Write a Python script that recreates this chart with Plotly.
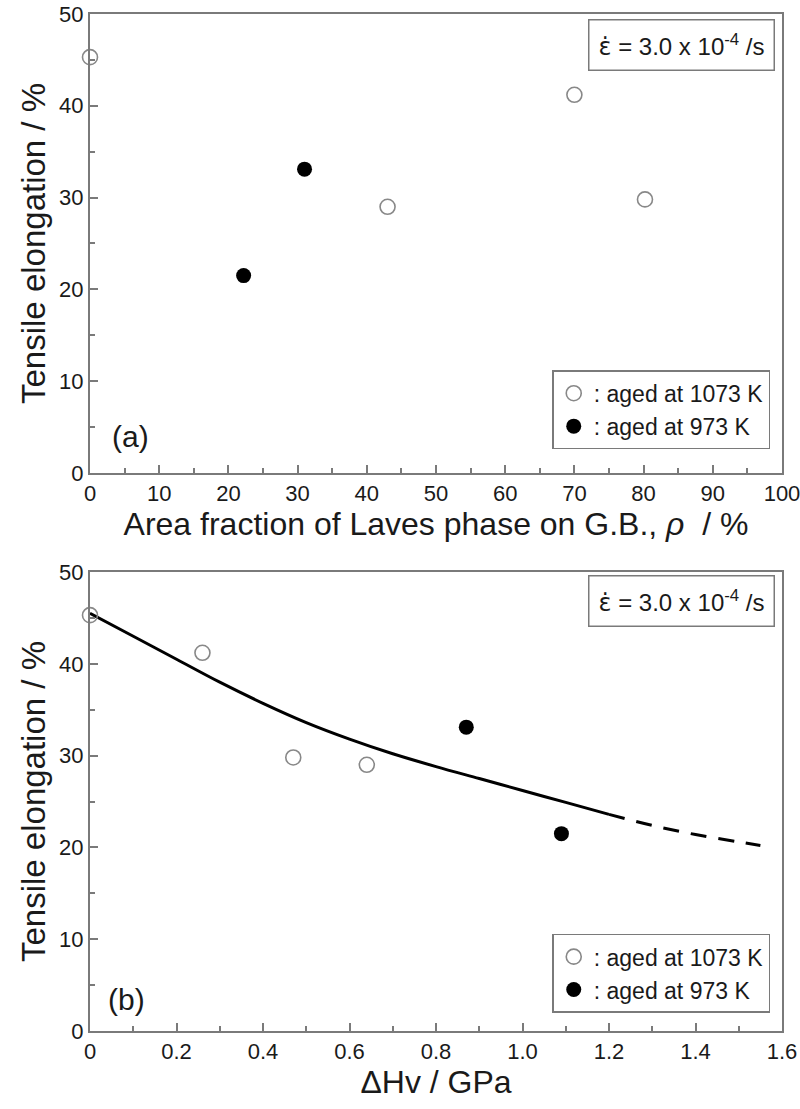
import plotly.graph_objects as go
from plotly.subplots import make_subplots

# ---- data ----
# (a) elongation vs area fraction of Laves phase
rho_1073 = [0, 43, 70, 80.2]
el_a_1073 = [45.3, 29.0, 41.2, 29.8]
rho_973 = [22.2, 31.0]
el_a_973 = [21.5, 33.1]

# (b) elongation vs hardness increase
dhv_1073 = [0, 0.26, 0.47, 0.64]
el_b_1073 = [45.3, 41.2, 29.8, 29.0]
dhv_973 = [0.87, 1.09]
el_b_973 = [33.1, 21.5]

fit_x_solid = [0, 0.1, 0.2, 0.3, 0.4, 0.5, 0.6, 0.7, 0.8, 0.9, 1.0, 1.1, 1.2]
fit_y_solid = [45.5, 43.0, 40.5, 38.0, 35.7, 33.6, 31.8, 30.2, 28.8, 27.5, 26.2, 24.9, 23.6]
fit_x_dash = [1.2, 1.3, 1.4, 1.5, 1.55]
fit_y_dash = [23.6, 22.4, 21.4, 20.6, 20.2]

FONT = "Liberation Sans, Arial, sans-serif"
TXT = "#1a1a1a"
AX = "#7a7a7a"

fig = make_subplots(rows=2, cols=1, vertical_spacing=0.0974)

open_marker = dict(symbol="circle-open", size=15, color="#888888", line=dict(width=1.6, color="#888888"))
filled_marker = dict(symbol="circle", size=15, color="black")

fig.add_trace(go.Scatter(x=rho_1073, y=el_a_1073, mode="markers", marker=open_marker,
                         name=": aged at 1073 K", legend="legend", cliponaxis=False), 1, 1)
fig.add_trace(go.Scatter(x=rho_973, y=el_a_973, mode="markers", marker=filled_marker,
                         name=": aged at 973 K", legend="legend", cliponaxis=False), 1, 1)

fig.add_trace(go.Scatter(x=fit_x_solid, y=fit_y_solid, mode="lines", line_shape="spline",
                         line=dict(color="black", width=3), showlegend=False), 2, 1)
fig.add_trace(go.Scatter(x=fit_x_dash, y=fit_y_dash, mode="lines", line_shape="spline",
                         line=dict(color="black", width=3, dash="16px,12px"), showlegend=False), 2, 1)
fig.add_trace(go.Scatter(x=dhv_1073, y=el_b_1073, mode="markers", marker=open_marker,
                         name=": aged at 1073 K", legend="legend2", cliponaxis=False), 2, 1)
fig.add_trace(go.Scatter(x=dhv_973, y=el_b_973, mode="markers", marker=filled_marker,
                         name=": aged at 973 K", legend="legend2", cliponaxis=False), 2, 1)

axis_common = dict(showline=True, linecolor=AX, linewidth=2, mirror=True, ticks="inside",
                   ticklen=8, tickwidth=1.5, tickcolor=AX, showgrid=False, zeroline=False,
                   automargin=False, ticklabeloverflow="allow",
                   tickfont=dict(size=22, color=TXT, family=FONT))

fig.update_xaxes(**axis_common)
fig.update_yaxes(**axis_common)

fig.update_xaxes(range=[0, 100], dtick=10, minor=dict(ticks="inside", ticklen=5, dtick=5, tickcolor=AX),
                 title=dict(text="Area fraction of Laves phase on G.B., <i>ρ</i>  / %",
                            font=dict(size=32, color=TXT, family=FONT), standoff=0), row=1, col=1)
fig.update_xaxes(range=[0, 1.6], tickvals=[0, 0.2, 0.4, 0.6, 0.8, 1.0, 1.2, 1.4, 1.6],
                 ticktext=["0", "0.2", "0.4", "0.6", "0.8", "1.0", "1.2", "1.4", "1.6"],
                 minor=dict(ticks="inside", ticklen=5, dtick=0.1, tickcolor=AX),
                 title=dict(text="ΔHv / GPa", font=dict(size=32, color=TXT, family=FONT), standoff=0),
                 row=2, col=1)
for r in (1, 2):
    fig.update_yaxes(range=[0, 50], dtick=10, minor=dict(ticks="inside", ticklen=5, dtick=5, tickcolor=AX),
                     title=dict(text="Tensile elongation / %", font=dict(size=33, color=TXT, family=FONT),
                                standoff=4), row=r, col=1)

legend_common = dict(bordercolor=AX, borderwidth=1.5, bgcolor="white", xanchor="right",
                     yanchor="bottom", font=dict(size=23, color=TXT, family=FONT),
                     tracegroupgap=0, itemwidth=30)

fig.update_layout(
    width=800, height=1109,
    margin=dict(l=90, r=18, t=14, b=78, autoexpand=False),
    paper_bgcolor="white", plot_bgcolor="white",
    showlegend=True,
    legend=dict(x=0.983, y=0.572, **legend_common),
    legend2=dict(x=0.983, y=0.018, **legend_common),
    font=dict(family=FONT, color=TXT),
)

eps = '<span style="font-family:DejaVu Sans">ε̇</span> = 3.0 x 10<sup>-4</sup> /s'
for yv in (0.995, 0.4484):
    fig.add_annotation(xref="paper", yref="paper", x=0.99, y=yv, xanchor="right", yanchor="top",
                       text=eps, showarrow=False,
                       font=dict(size=24, color=TXT, family=FONT),
                       bordercolor=AX, borderwidth=1.5, borderpad=9, bgcolor="white")

fig.add_annotation(xref="x", yref="y", x=5.8, y=4.0, text="(a)", showarrow=False,
                   font=dict(size=30, color=TXT, family=FONT))
fig.add_annotation(xref="x2", yref="y2", x=0.085, y=3.4, text="(b)", showarrow=False,
                   font=dict(size=30, color=TXT, family=FONT))

fig.write_html("out.html")
